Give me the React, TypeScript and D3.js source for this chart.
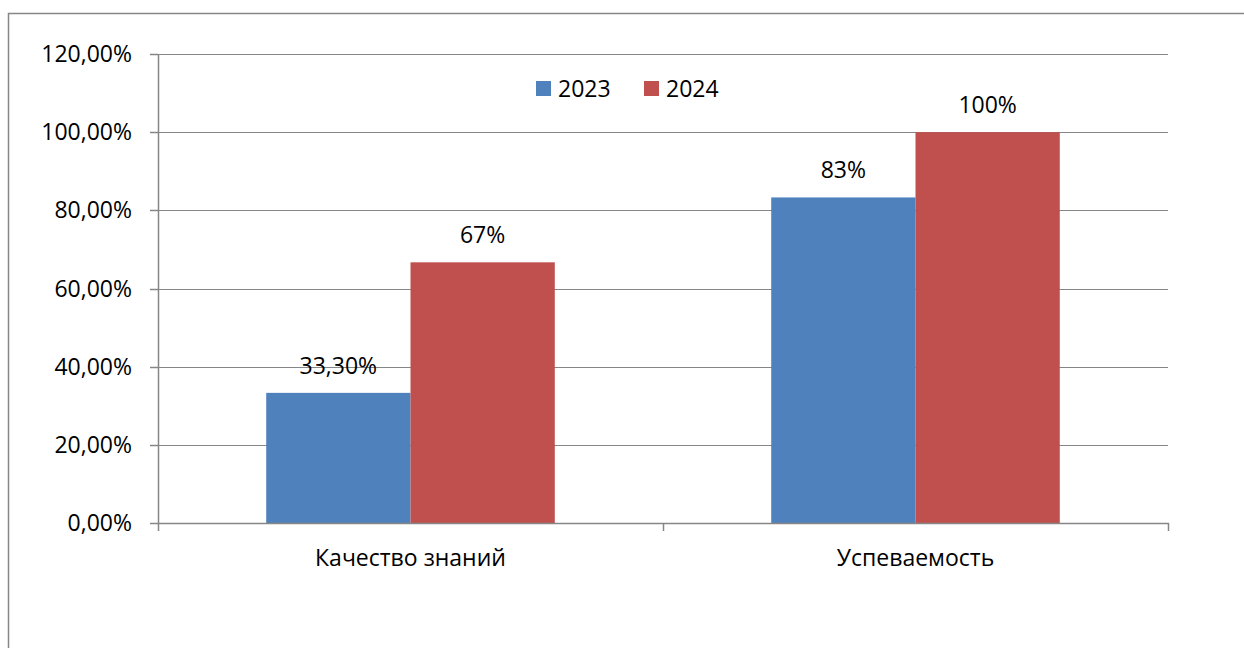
import { useEffect, useRef } from "react";
import * as d3 from "d3";

// categories and series
const categories = ["Качество знаний", "Успеваемость"];
const seriesNames = ["2023", "2024"];
const seriesColors = ["#4F81BD", "#C0504D"];
const values2023 = [0.333, 0.833];
const values2024 = [0.667, 1.0];
const labels2023 = ["33,30%", "83%"];
const labels2024 = ["67%", "100%"];
const yTicks = [0, 0.2, 0.4, 0.6, 0.8, 1.0, 1.2];

const WIDTH = 1244;
const HEIGHT = 648;
const FONT = "'Open Sans', 'Noto Sans', sans-serif";
const FS = 23;

export default function App() {
  const svgRef = useRef<SVGSVGElement>(null);

  useEffect(() => {
    if (!svgRef.current) return;
    const svg = d3.select(svgRef.current);
    svg.selectAll("*").remove();

    const plot = { left: 158, right: 1168, top: 54, bottom: 523 };

    // outer chart border (runs off the page on the right and bottom)
    svg.append("rect")
      .attr("x", 8.5).attr("y", 13.5)
      .attr("width", WIDTH + 20).attr("height", HEIGHT + 20)
      .attr("fill", "white")
      .attr("stroke", "#868686").attr("stroke-width", 1.5);

    const x0 = d3.scaleBand<string>().domain(categories).range([plot.left, plot.right]).paddingInner(0).paddingOuter(0);
    const x1 = d3.scaleBand<string>().domain(seriesNames).range([0, x0.bandwidth()]).paddingInner(0).paddingOuter(0.75);
    const y = d3.scaleLinear().domain([0, 1.2]).range([plot.bottom, plot.top]);

    const fmt = (v: number) => (v * 100).toFixed(2).replace(".", ",") + "%";

    // gridlines
    svg.append("g")
      .selectAll("line")
      .data(yTicks.slice(1))
      .join("line")
      .attr("x1", plot.left).attr("x2", plot.right)
      .attr("y1", (d) => Math.round(y(d)) + 0.5).attr("y2", (d) => Math.round(y(d)) + 0.5)
      .attr("stroke", "#868686").attr("stroke-width", 1);

    // bars + value labels
    const series = [
      { name: seriesNames[0], values: values2023, labels: labels2023, color: seriesColors[0] },
      { name: seriesNames[1], values: values2024, labels: labels2024, color: seriesColors[1] },
    ];

    series.forEach((s) => {
      const g = svg.append("g");
      g.selectAll("rect")
        .data(categories)
        .join("rect")
        .attr("x", (c) => x0(c)! + x1(s.name)!)
        .attr("y", (c, i) => y(s.values[i]))
        .attr("width", x1.bandwidth())
        .attr("height", (c, i) => plot.bottom - y(s.values[i]))
        .attr("fill", s.color);

      g.selectAll("text")
        .data(categories)
        .join("text")
        .attr("x", (c) => x0(c)! + x1(s.name)! + x1.bandwidth() / 2)
        .attr("y", (c, i) => y(s.values[i]) - 19)
        .attr("text-anchor", "middle")
        .attr("font-family", FONT).attr("font-size", FS).attr("fill", "#000")
        .text((c, i) => s.labels[i]);
    });

    // axes
    const axisColor = "#868686";
    svg.append("line")
      .attr("x1", plot.left + 0.5).attr("x2", plot.left + 0.5)
      .attr("y1", plot.top).attr("y2", plot.bottom)
      .attr("stroke", axisColor).attr("stroke-width", 1.5);
    svg.append("line")
      .attr("x1", plot.left).attr("x2", plot.right + 1)
      .attr("y1", plot.bottom + 0.5).attr("y2", plot.bottom + 0.5)
      .attr("stroke", axisColor).attr("stroke-width", 1.5);

    // y ticks
    svg.append("g")
      .selectAll("line")
      .data(yTicks)
      .join("line")
      .attr("x1", plot.left - 8).attr("x2", plot.left)
      .attr("y1", (d) => Math.round(y(d)) + 0.5).attr("y2", (d) => Math.round(y(d)) + 0.5)
      .attr("stroke", axisColor).attr("stroke-width", 1.5);

    svg.append("g")
      .selectAll("text")
      .data(yTicks)
      .join("text")
      .attr("x", 132)
      .attr("y", (d) => y(d))
      .attr("dy", "0.35em")
      .attr("text-anchor", "end")
      .attr("font-family", FONT).attr("font-size", FS).attr("fill", "#000")
      .text((d) => fmt(d));

    // x ticks at category boundaries
    const xBounds = [plot.left, ...categories.map((c) => x0(c)! + x0.bandwidth())];
    svg.append("g")
      .selectAll("line")
      .data(xBounds)
      .join("line")
      .attr("x1", (d) => Math.round(d) + 0.5).attr("x2", (d) => Math.round(d) + 0.5)
      .attr("y1", plot.bottom).attr("y2", plot.bottom + 8)
      .attr("stroke", axisColor).attr("stroke-width", 1.5);

    svg.append("g")
      .selectAll("text")
      .data(categories)
      .join("text")
      .attr("x", (c) => x0(c)! + x0.bandwidth() / 2)
      .attr("y", 566)
      .attr("text-anchor", "middle")
      .attr("font-family", FONT).attr("font-size", FS).attr("fill", "#000")
      .text((c) => c);

    // legend
    const legendX = [536, 644];
    const legend = svg.append("g");
    seriesNames.forEach((name, i) => {
      legend.append("rect")
        .attr("x", legendX[i]).attr("y", 81)
        .attr("width", 15).attr("height", 15)
        .attr("fill", seriesColors[i]);
      legend.append("text")
        .attr("x", legendX[i] + 22).attr("y", 88.5)
        .attr("dy", "0.35em")
        .attr("font-family", FONT).attr("font-size", FS).attr("fill", "#000")
        .text(name);
    });
  }, []);

  return (
    <svg
      ref={svgRef}
      width={WIDTH}
      height={HEIGHT}
      style={{ position: "absolute", left: 0, top: 0, background: "white" }}
    />
  );
}
